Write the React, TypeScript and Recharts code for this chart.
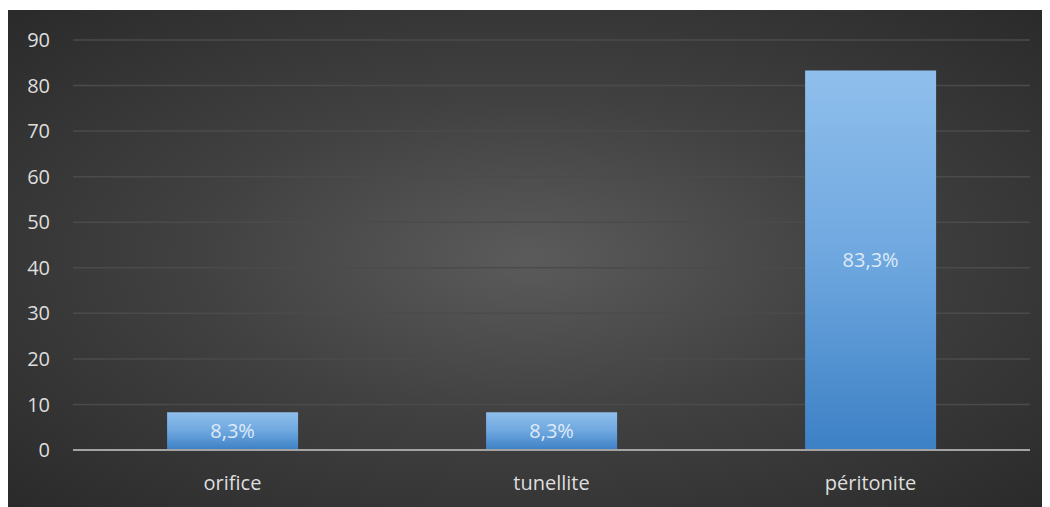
import { Bar, BarChart, CartesianGrid, LabelList, XAxis, YAxis } from "recharts";

const categories = ["orifice", "tunellite", "péritonite"];
const percentages = [8.3, 8.3, 83.3];
const valueLabels = ["8,3%", "8,3%", "83,3%"];
const yTicks = [0, 10, 20, 30, 40, 50, 60, 70, 80, 90];

const data = categories.map((name, i) => ({
  name,
  value: percentages[i],
  label: valueLabels[i],
}));

const font = "'Open Sans', sans-serif";

export default function App() {
  return (
    <div
      style={{
        marginTop: 2,
        width: 1042,
        height: 497,
        background:
          "radial-gradient(ellipse at 50% 50%, #5b5b5b 0%, #414141 45%, #2a2a2a 100%)",
      }}
    >
      <BarChart
        width={1042}
        height={497}
        data={data}
        margin={{ top: 30, right: 20, bottom: 17, left: 0 }}
        barCategoryGap="29.5%"
      >
        <defs>
          <linearGradient id="barFill" x1="0" y1="0" x2="0" y2="1">
            <stop offset="0%" stopColor="#8fbfec" />
            <stop offset="50%" stopColor="#6ea7df" />
            <stop offset="100%" stopColor="#3c80c5" />
          </linearGradient>
        </defs>
        <CartesianGrid vertical={false} stroke="#4b4b4b" strokeWidth={1.5} />
        <XAxis
          dataKey="name"
          height={40}
          axisLine={{ stroke: "#a3a3a3", strokeWidth: 2 }}
          tickLine={false}
          tickMargin={20}
          tick={{ fill: "#dedede", fontSize: 20, fontFamily: font }}
        />
        <YAxis
          width={65}
          domain={[0, 90]}
          ticks={yTicks}
          axisLine={false}
          tickLine={false}
          tickSize={0}
          tickMargin={23}
          tick={{ fill: "#dedede", fontSize: 20, fontFamily: font }}
        />
        <Bar dataKey="value" fill="url(#barFill)" isAnimationActive={false}>
          <LabelList
            dataKey="label"
            position="center"
            fill="#dfeaf6"
            fontSize={20}
            fontFamily={font}
          />
        </Bar>
      </BarChart>
    </div>
  );
}
